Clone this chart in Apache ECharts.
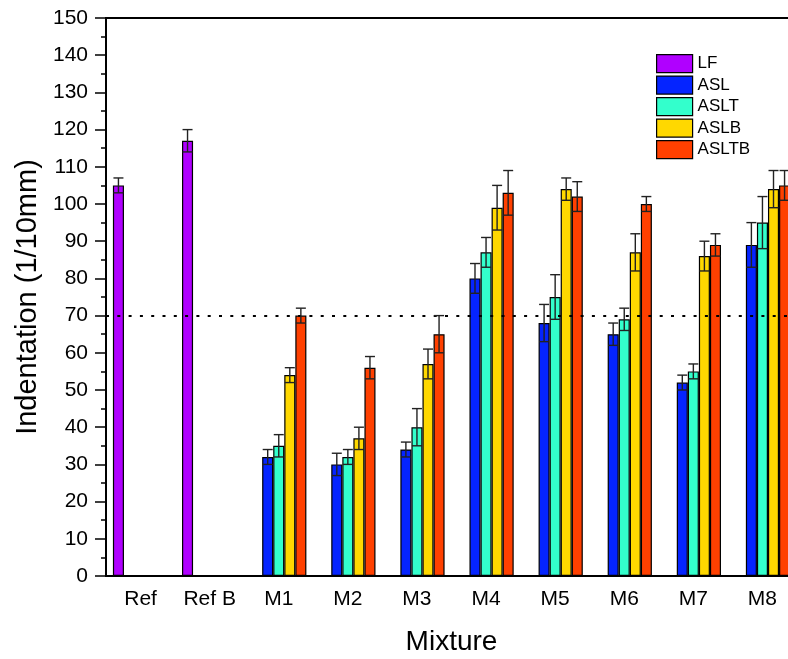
<!DOCTYPE html>
<html>
<head>
<meta charset="utf-8">
<script src="https://cdn.jsdelivr.net/npm/echarts@6/dist/echarts.min.js"></script>
<style>
html,body{margin:0;padding:0;background:#fff;overflow:hidden;}
#chart{width:788px;height:659px;}
</style>
</head>
<body>
<div id="chart"></div>
<script>
const categories = ['Ref', 'Ref B', 'M1', 'M2', 'M3', 'M4', 'M5', 'M6', 'M7', 'M8'];
const seriesNames = ['LF', 'ASL', 'ASLT', 'ASLB', 'ASLTB'];
const LF        = [105, 117, null, null, null, null, null, null, null, null];
const LF_err    = [2, 3, null, null, null, null, null, null, null, null];
const ASL       = [null, null, 32, 30, 34, 80, 68, 65, 52, 89];
const ASL_err   = [null, null, 2, 3, 2, 4, 5, 3, 2, 6];
const ASLT      = [null, null, 35, 32, 40, 87, 75, 69, 55, 95];
const ASLT_err  = [null, null, 3, 2, 5, 4, 6, 3, 2, 7];
const ASLB      = [null, null, 54, 37, 57, 99, 104, 87, 86, 104];
const ASLB_err  = [null, null, 2, 3, 4, 6, 3, 5, 4, 5];
const ASLTB     = [null, null, 70, 56, 65, 103, 102, 100, 89, 105];
const ASLTB_err = [null, null, 2, 3, 5, 6, 4, 2, 3, 4];
const refLine = 70;
const yTicks = [0, 150, 10];

const values = [LF, ASL, ASLT, ASLB, ASLTB];
const errors = [LF_err, ASL_err, ASLT_err, ASLB_err, ASLTB_err];
const colors = ['#b000ff', '#0524ff', '#33ffcc', '#ffd800', '#ff4000'];
const FONT = 'Liberation Sans, Arial, sans-serif';
const nSeries = seriesNames.length;
const catGapRatio = 0.2;

const barSeries = seriesNames.map((name, k) => ({
  name: name,
  type: 'bar',
  data: values[k].map(v => (v === null ? '-' : v)),
  barGap: '0%',
  barCategoryGap: (catGapRatio * 100) + '%',
  itemStyle: { color: colors[k], borderColor: '#000', borderWidth: 1.2 },
  emphasis: { disabled: true },
  z: 2
}));

const errSeries = seriesNames.map((name, k) => ({
  name: name + ' err',
  type: 'custom',
  z: 5,
  silent: true,
  data: values[k].map((v, i) => [i, v, errors[k][i]]).filter(d => d[1] !== null),
  renderItem: function (params, api) {
    const i = api.value(0), v = api.value(1), e = api.value(2);
    const band = api.size([1, 0])[0];
    const bw = band * (1 - catGapRatio) / nSeries;
    const off = (k - (nSeries - 1) / 2) * bw;
    const top = api.coord([i, v + e]);
    const bot = api.coord([i, v - e]);
    const x = top[0] + off;
    const hw = 5;
    const st = { stroke: '#222', lineWidth: 1.4 };
    return {
      type: 'group',
      children: [
        { type: 'line', shape: { x1: x, y1: top[1], x2: x, y2: bot[1] }, style: st },
        { type: 'line', shape: { x1: x - hw, y1: top[1], x2: x + hw, y2: top[1] }, style: st },
        { type: 'line', shape: { x1: x - hw, y1: bot[1], x2: x + hw, y2: bot[1] }, style: st }
      ]
    };
  }
}));

barSeries[nSeries - 1].markLine = {
  silent: true,
  symbol: ['none', 'none'],
  label: { show: false },
  lineStyle: { color: '#000', type: [3, 8.3], width: 2 },
  emphasis: { disabled: true },
  data: [{ yAxis: refLine }]
};

const chart = echarts.init(document.getElementById('chart'), null, { renderer: 'canvas' });
chart.setOption({
  animation: false,
  backgroundColor: '#fff',
  textStyle: { fontFamily: FONT },
  grid: {
    left: 106, top: 18, width: 691, height: 558,
    show: true, borderColor: '#000', borderWidth: 2, backgroundColor: 'transparent',
    containLabel: false,
    outerBoundsMode: 'none'
  },
  legend: {
    data: seriesNames,
    orient: 'vertical',
    left: 651, top: 49,
    padding: 5,
    itemWidth: 36, itemHeight: 18, itemGap: 2.3,
    icon: 'rect',
    itemStyle: { borderColor: '#000', borderWidth: 1.2 },
    textStyle: { fontSize: 17, color: '#000', fontFamily: FONT },
    selectedMode: false
  },
  xAxis: {
    type: 'category',
    data: categories,
    name: 'Mixture',
    nameLocation: 'middle',
    nameGap: 52,
    nameTextStyle: { fontSize: 28, color: '#000', fontFamily: FONT },
    axisLine: { show: true, lineStyle: { color: '#000', width: 2 } },
    axisTick: { show: false },
    axisLabel: { interval: 0, fontSize: 21, color: '#000', margin: 13, fontFamily: FONT },
    splitLine: { show: false }
  },
  yAxis: {
    type: 'value',
    min: yTicks[0], max: yTicks[1], interval: yTicks[2],
    name: 'Indentation (1/10mm)',
    nameLocation: 'middle',
    nameGap: 62,
    nameRotate: 90,
    nameTextStyle: { fontSize: 29, color: '#000', fontFamily: FONT },
    axisLine: { show: true, lineStyle: { color: '#000', width: 2 } },
    axisTick: { show: true, inside: false, length: 11, lineStyle: { color: '#000', width: 1.5 } },
    minorTick: { show: true, splitNumber: 2, length: 5, lineStyle: { color: '#000', width: 1.5 } },
    axisLabel: { fontSize: 21, color: '#000', margin: 18, fontFamily: FONT },
    splitLine: { show: false },
    minorSplitLine: { show: false }
  },
  series: barSeries.concat(errSeries)
});
</script>
</body>
</html>
